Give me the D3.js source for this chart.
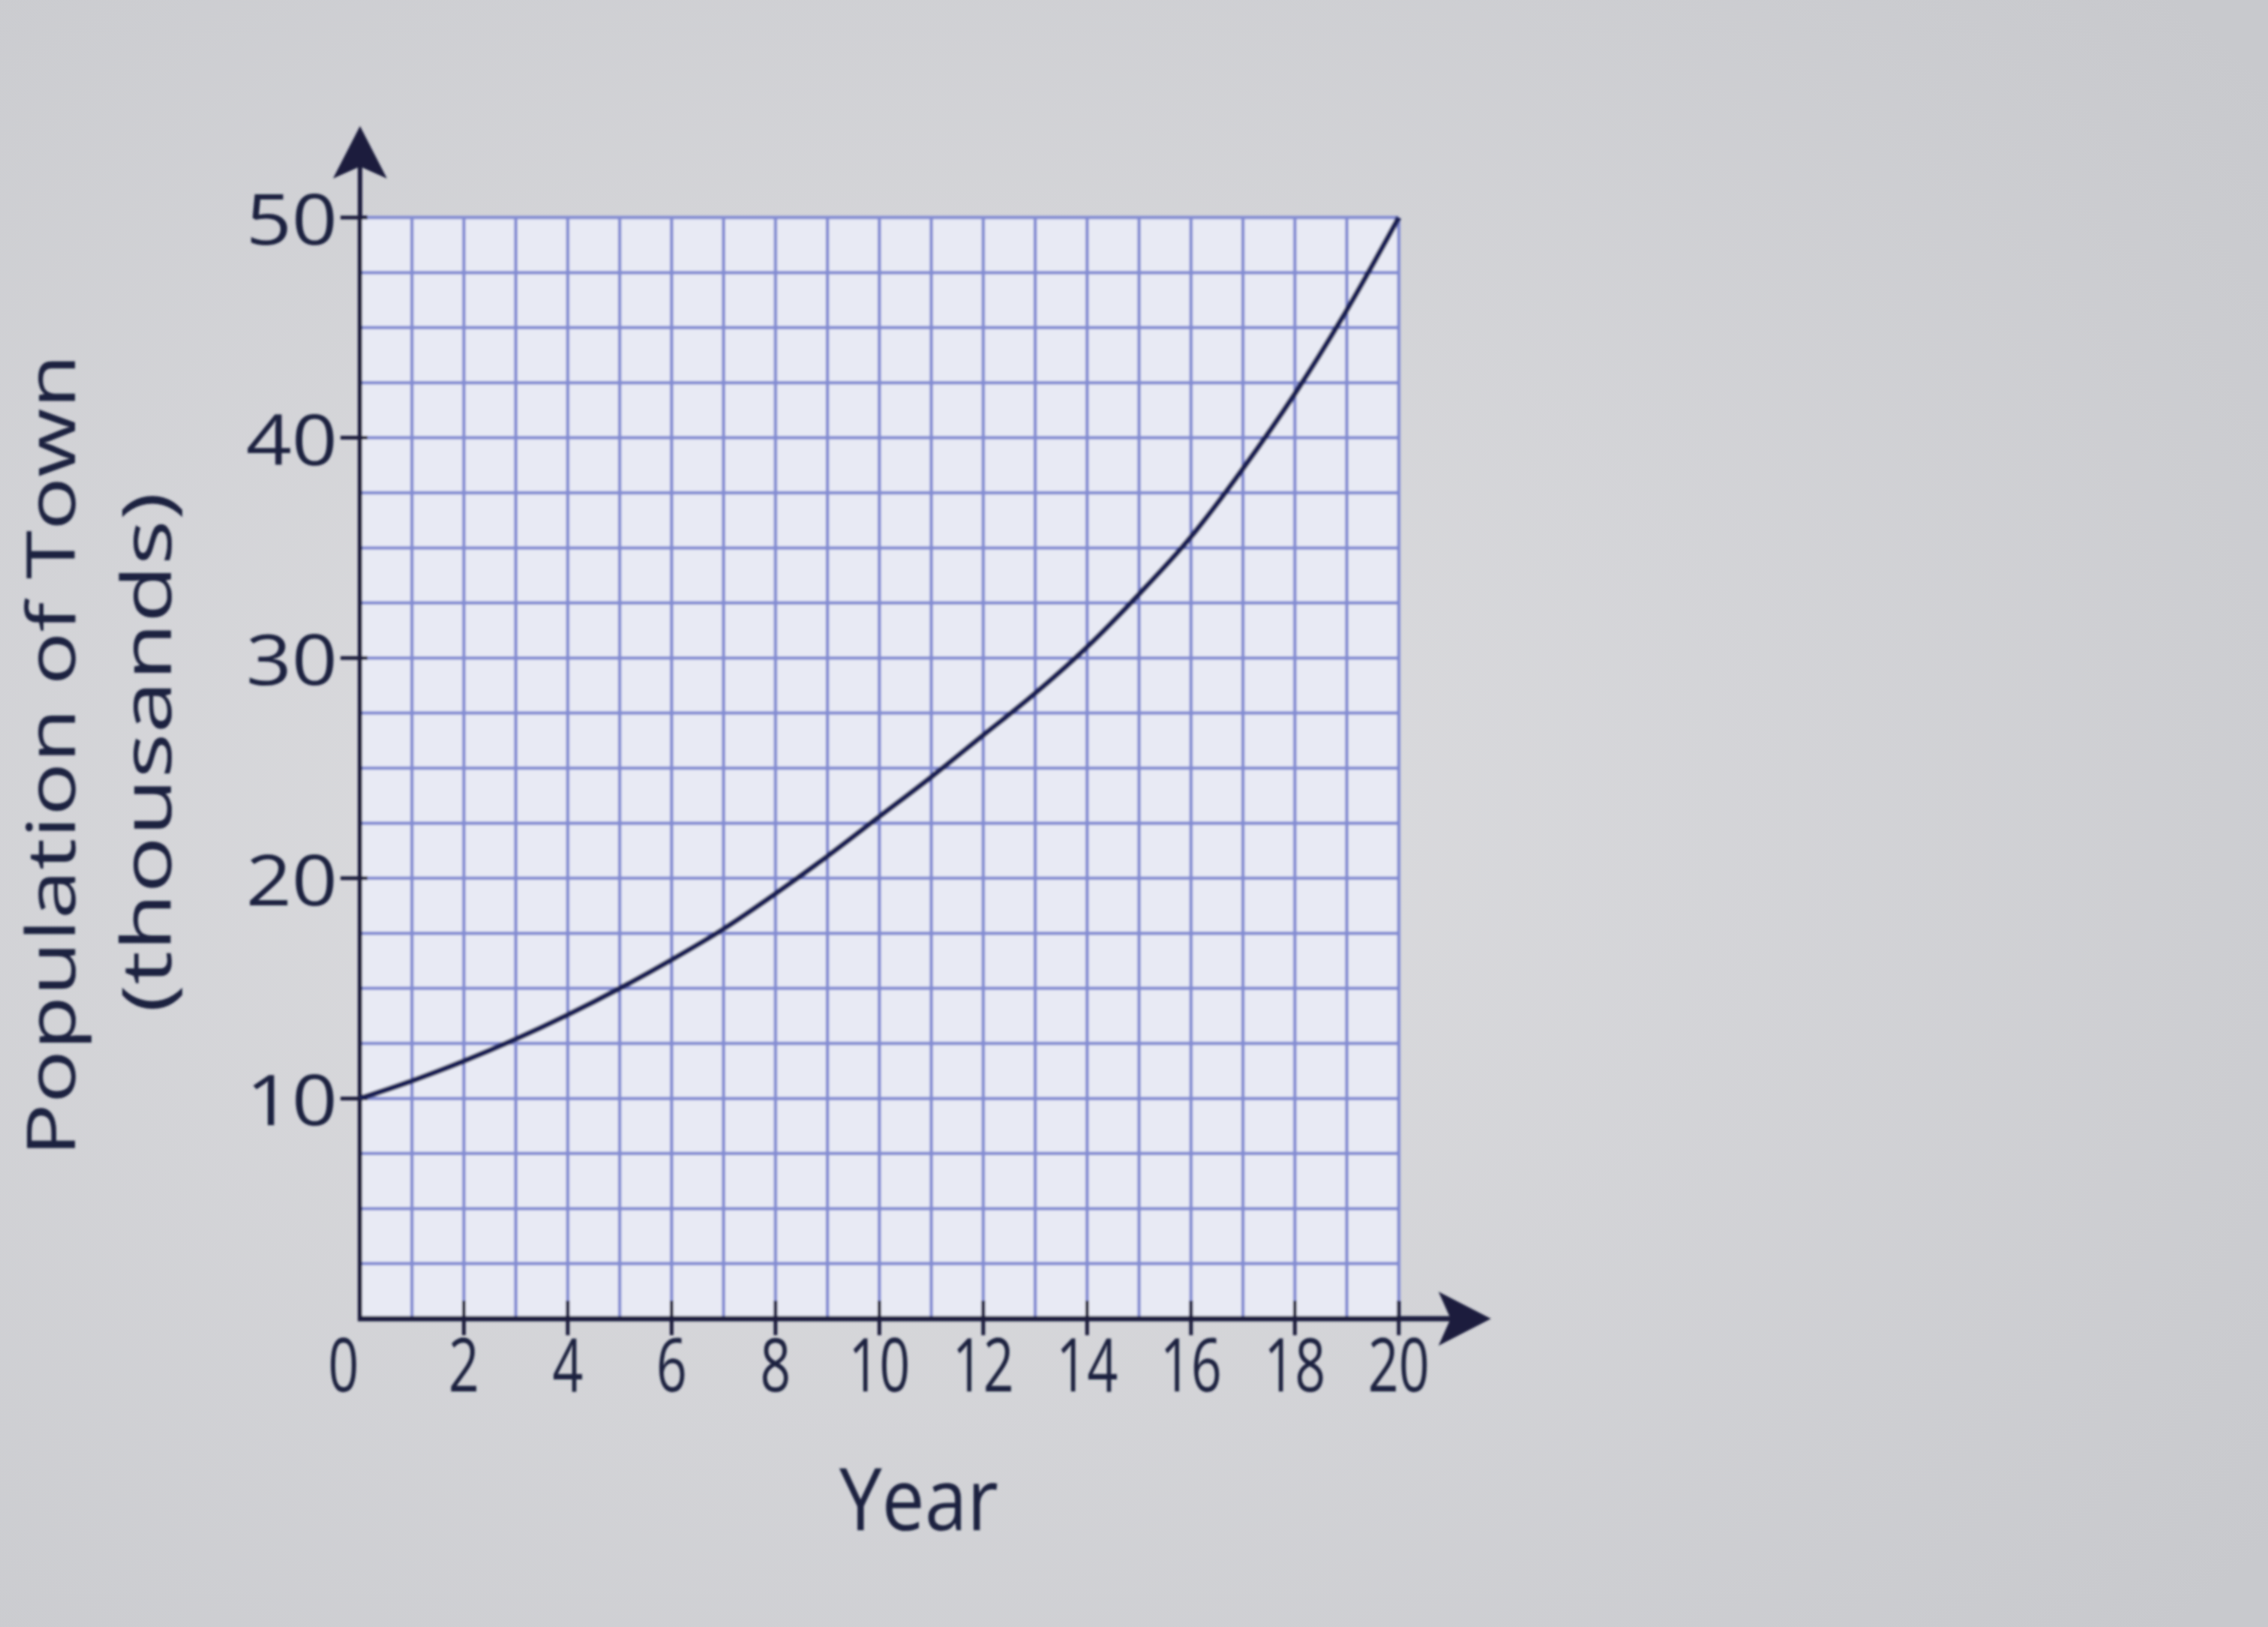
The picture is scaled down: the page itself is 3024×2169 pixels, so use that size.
<!DOCTYPE html>
<html>
<head>
<meta charset="utf-8">
<script src="https://cdn.jsdelivr.net/npm/d3@7"></script>
<style>
  html, body { margin: 0; padding: 0; background: #d3d4d8; }
  svg { display: block; }
  text { font-family: "Liberation Sans Narrow", "Open Sans", sans-serif; fill: #1d2240; }
</style>
</head>
<body>
<div id="chart"></div>
<script>
// values
var years = [0, 1, 2, 3, 4, 5, 6, 7, 8, 9, 10, 11, 12, 13, 14, 15, 16, 17, 18, 19, 20];
var population = [10, 10.8, 11.7, 12.7, 13.8, 15.0, 16.3, 17.7, 19.3, 21.0, 22.8,
                  24.6, 26.5, 28.4, 30.5, 32.9, 35.5, 38.6, 42.0, 45.8, 50];
var xTicks = [0, 2, 4, 6, 8, 10, 12, 14, 16, 18, 20];
var yTicks = [10, 20, 30, 40, 50];

var svgWidth = 3024;
var svgHeight = 2169;

var svg = d3.select("#chart")
    .append("svg")
    .attr("width", svgWidth)
    .attr("height", svgHeight);

var defs = svg.append("defs");
var bg = defs.append("radialGradient")
    .attr("id", "bg")
    .attr("cx", "40%").attr("cy", "50%").attr("r", "75%");
bg.append("stop").attr("offset", "0%").attr("stop-color", "#dfdfe2");
bg.append("stop").attr("offset", "100%").attr("stop-color", "#c8c9cd");

defs.append("filter").attr("id", "soft")
    .append("feGaussianBlur").attr("stdDeviation", 1.6);

svg.append("rect")
    .attr("width", svgWidth)
    .attr("height", svgHeight)
    .attr("fill", "url(#bg)");

var g = svg.append("g").attr("filter", "url(#soft)");

// scales
var x = d3.scaleLinear().domain([0, 20]).range([480, 1865]);
var y = d3.scaleLinear().domain([0, 50]).range([1758, 290]);

// plot paper
g.append("rect")
    .attr("x", x(0))
    .attr("y", y(50))
    .attr("width", x(20) - x(0))
    .attr("height", y(0) - y(50))
    .attr("fill", "#e8eaf4");

// grid, 1 year by 2.5 thousand
g.selectAll("line.vgrid")
    .data(x.ticks(20))
    .enter()
    .append("line")
    .attr("class", "vgrid")
    .attr("x1", function (d) { return x(d); })
    .attr("x2", function (d) { return x(d); })
    .attr("y1", y(0))
    .attr("y2", y(50))
    .attr("stroke", "#838cd2")
    .attr("stroke-width", 4.5);

g.selectAll("line.hgrid")
    .data(d3.range(2.5, 50.1, 2.5))
    .enter()
    .append("line")
    .attr("class", "hgrid")
    .attr("x1", x(0))
    .attr("x2", x(20))
    .attr("y1", function (d) { return y(d); })
    .attr("y2", function (d) { return y(d); })
    .attr("stroke", "#838cd2")
    .attr("stroke-width", 4.5);

// axes
var axisColor = "#1a1f3d";
g.append("line")
    .attr("x1", x(0)).attr("x2", x(0))
    .attr("y1", y(0) + 3).attr("y2", 215)
    .attr("stroke", axisColor).attr("stroke-width", 6);
g.append("path")
    .attr("d", "M" + x(0) + ",168 L" + (x(0) + 36) + ",238 L" + x(0) + ",222 L" + (x(0) - 36) + ",238 Z")
    .attr("fill", axisColor);

g.append("line")
    .attr("x1", x(0) - 3).attr("x2", 1935)
    .attr("y1", y(0)).attr("y2", y(0))
    .attr("stroke", axisColor).attr("stroke-width", 7);
g.append("path")
    .attr("d", "M1988," + y(0) + " L1918," + (y(0) - 36) + " L1934," + y(0) + " L1918," + (y(0) + 36) + " Z")
    .attr("fill", axisColor);

// y ticks and labels
g.selectAll("line.ytick")
    .data(yTicks)
    .enter()
    .append("line")
    .attr("class", "ytick")
    .attr("x1", x(0) - 26)
    .attr("x2", x(0) + 10)
    .attr("y1", function (d) { return y(d); })
    .attr("y2", function (d) { return y(d); })
    .attr("stroke", axisColor)
    .attr("stroke-width", 5);

g.selectAll("text.ylab")
    .data(yTicks)
    .enter()
    .append("text")
    .attr("class", "ylab")
    .attr("x", x(0) - 30)
    .attr("y", function (d) { return y(d) + 36; })
    .attr("text-anchor", "end")
    .attr("font-size", 94)
    .attr("textLength", 122)
    .attr("lengthAdjust", "spacingAndGlyphs")
    .text(function (d) { return d; });

// x ticks and labels
g.selectAll("line.xtick")
    .data(xTicks.slice(1))
    .enter()
    .append("line")
    .attr("class", "xtick")
    .attr("x1", function (d) { return x(d); })
    .attr("x2", function (d) { return x(d); })
    .attr("y1", y(0) - 24)
    .attr("y2", y(0) + 22)
    .attr("stroke", axisColor)
    .attr("stroke-width", 5);

g.selectAll("text.xlab")
    .data(xTicks)
    .enter()
    .append("text")
    .attr("class", "xlab")
    .attr("x", function (d) { return d === 0 ? x(d) - 22 : x(d); })
    .attr("y", 1855)
    .attr("text-anchor", "middle")
    .attr("font-size", 98)
    .attr("textLength", function (d) { return String(d).length * 41; })
    .attr("lengthAdjust", "spacingAndGlyphs")
    .text(function (d) { return d; });

// axis titles
g.append("text")
    .attr("transform", "translate(100,1007) rotate(-90)")
    .attr("text-anchor", "middle")
    .attr("font-size", 90)
    .attr("textLength", 1070)
    .attr("lengthAdjust", "spacingAndGlyphs")
    .text("Population of Town");

g.append("text")
    .attr("transform", "translate(228,1003) rotate(-90)")
    .attr("text-anchor", "middle")
    .attr("font-size", 92)
    .attr("textLength", 694)
    .attr("lengthAdjust", "spacingAndGlyphs")
    .text("(thousands)");

g.append("text")
    .attr("x", 1225)
    .attr("y", 2040)
    .attr("text-anchor", "middle")
    .attr("font-size", 116)
    .attr("textLength", 212)
    .attr("lengthAdjust", "spacingAndGlyphs")
    .text("Year");

// the curve
var line = d3.line()
    .x(function (d, i) { return x(years[i]); })
    .y(function (d) { return y(d); })
    .curve(d3.curveMonotoneX);

g.append("path")
    .datum(population)
    .attr("d", line)
    .attr("fill", "none")
    .attr("stroke", "#1c2456")
    .attr("stroke-width", 7.5);
</script>
</body>
</html>
